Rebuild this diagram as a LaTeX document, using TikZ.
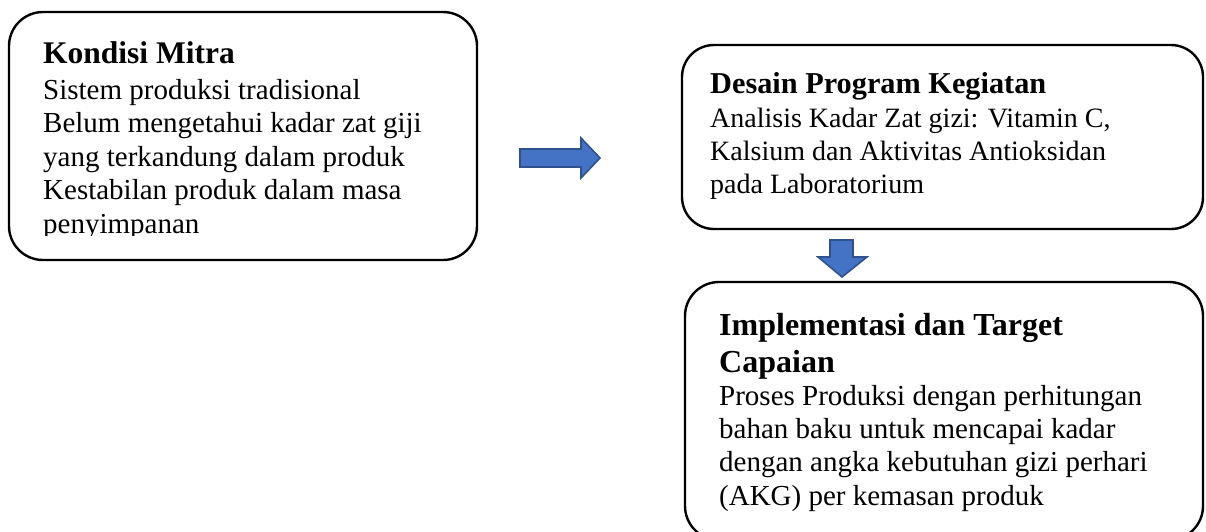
\documentclass[tikz,border=0pt]{standalone}
\usepackage{fontspec}
\setmainfont{Liberation Serif}
\definecolor{arrowfill}{HTML}{4472C4}
\definecolor{arrowline}{HTML}{2F528F}
\begin{document}
\begin{tikzpicture}[x=1pt,y=-1pt,
  panel/.style={draw=black, line width=2.4pt, inner sep=0pt},
  ttl/.style={anchor=base west, inner sep=0pt, font=\bfseries\fontsize{31}{37}\selectfont},
  bodytext/.style={anchor=north west, inner sep=0pt, align=left},
  blockarrow/.style={fill=arrowfill, draw=arrowline, line width=1.6pt, line join=miter}
]
\useasboundingbox (0,0) rectangle (1206,531);
\clip (0,0) rectangle (1206,531);
% boxes
\node[panel, rounded corners=34pt, minimum width=468pt, minimum height=248pt] (k) at (243,136) {};
\node[panel, rounded corners=32pt, minimum width=521pt, minimum height=184pt] (d) at (942.5,137) {};
\node[panel, rounded corners=34pt, minimum width=518pt, minimum height=258pt] (i) at (944,411) {};
% box 1 text
\node[ttl, font=\bfseries\fontsize{31.5}{36}\selectfont] (tk) at (43,63) {Kondisi Mitra};
\begin{scope}
\clip (0,0) rectangle (1206,235);
\node[bodytext, font=\fontsize{29}{33.5}\selectfont] (bk) at (43,{99-0.7*33.5})
 {\strut Sistem produksi tradisional\\Belum mengetahui kadar zat giji\\yang terkandung dalam produk\\Kestabilan produk dalam masa\\penyimpanan};
\end{scope}
% box 2 text
\node[ttl, font=\bfseries\fontsize{30.3}{36}\selectfont] (td) at (710,93) {Desain Program Kegiatan};
\node[bodytext, font=\fontsize{28}{33}\selectfont] (bd) at (710,{127-0.7*33})
 {\strut Analisis Kadar Zat gizi: Vitamin C,\\Kalsium dan Aktivitas Antioksidan\\pada Laboratorium};
% box 3 text
\node[bodytext, font=\bfseries\fontsize{32}{37}\selectfont] (ti) at (719,{335-0.7*37})
 {\strut Implementasi dan Target\\Capaian};
\node[bodytext, font=\fontsize{29}{33.3}\selectfont] (bi) at (719,{405-0.7*33.3})
 {\strut Proses Produksi dengan perhitungan\\bahan baku untuk mencapai kadar\\dengan angka kebutuhan gizi perhari\\(AKG) per kemasan produk};
% block arrows
\draw[blockarrow] (520,149) -- (581,149) -- (581,138) -- (600,158) -- (581,178) -- (581,167) -- (520,167) -- cycle;
\draw[blockarrow] (830,240) -- (853,240) -- (853,257) -- (867,257) -- (842,277) -- (818,257) -- (830,257) -- cycle;
\end{tikzpicture}
\end{document}
